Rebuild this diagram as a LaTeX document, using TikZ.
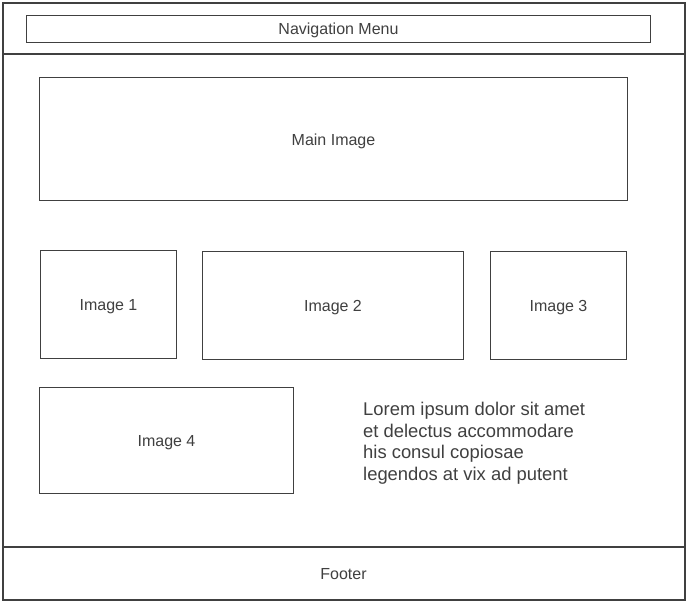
\documentclass[tikz,border=0pt]{standalone}
\usepackage{fontspec}
\setmainfont{Liberation Sans}
\definecolor{ln}{HTML}{404040}
\definecolor{tx}{HTML}{404040}
\begin{document}
\begin{tikzpicture}[x=1pt,y=-1pt,
  frame/.style={draw=ln,line width=2pt},
  sep/.style={draw=ln,line width=1.3pt},
  box/.style={draw=ln,line width=1pt,inner sep=0pt},
  lbl/.style={text=tx,font=\fontsize{16}{19}\selectfont,inner sep=0pt}]
\useasboundingbox (0,0) rectangle (689,603);
\fill[white] (0,0) rectangle (689,603);
\draw[frame] (2.5,3) rectangle (685,600);
\draw[sep] (2.5,54) coordinate (nl) -- (685,54) coordinate (nr);
\draw[sep] (2.5,547) coordinate (fl) -- (685,547) coordinate (fr);
\node[box,minimum width=624pt,minimum height=27pt] (nav) at (338.5,28.5) {};
\node[box,minimum width=588pt,minimum height=123pt] (main) at (333.5,138.5) {};
\node[box,minimum width=136pt,minimum height=108pt] (i1) at (108.5,304) {};
\node[box,minimum width=261pt,minimum height=108pt] (i2) at (333,305) {};
\node[box,minimum width=136pt,minimum height=108pt] (i3) at (558.5,305) {};
\node[box,minimum width=254pt,minimum height=106pt] (i4) at (166.5,440) {};
\node[lbl] (navt) at ([yshift=-2pt]nav.center) {Navigation Menu};
\node[lbl] (maint) at ([yshift=-2.5pt]main.center) {Main Image};
\node[lbl] (i1t) at ([yshift=-3pt]i1.center) {Image 1};
\node[lbl] (i2t) at ([yshift=-2.5pt]i2.center) {Image 2};
\node[lbl] (i3t) at ([yshift=-2.5pt]i3.center) {Image 3};
\node[lbl] (i4t) at ([yshift=-2.5pt]i4.center) {Image 4};
\node[lbl,anchor=north west,align=left,font=\fontsize{18.4}{21.7}\selectfont] (txt) at (363,402) {Lorem ipsum dolor sit amet\\et delectus accommodare\\his consul copiosae\\legendos at vix ad putent};
\node[lbl] (foot) at (343.5,574.5) {Footer};
\end{tikzpicture}
\end{document}
